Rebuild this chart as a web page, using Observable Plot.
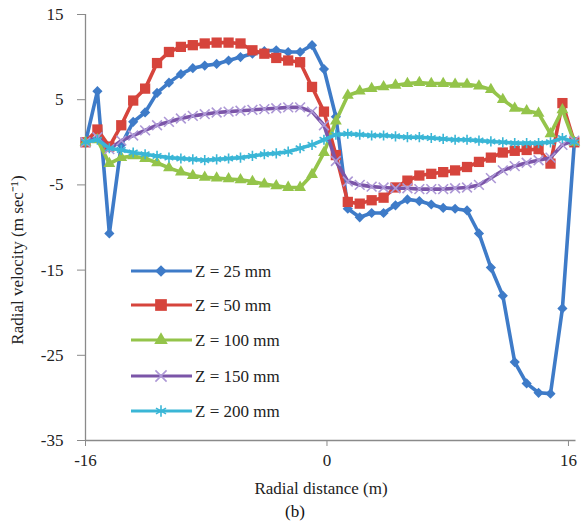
<!DOCTYPE html>
<html><head><meta charset="utf-8">
<script src="https://cdn.jsdelivr.net/npm/d3@7"></script>
<script src="https://cdn.jsdelivr.net/npm/@observablehq/plot@0.6"></script>
<style>
body{margin:0;background:#fff}
#wrap{position:relative;width:584px;height:529px;font-family:"Liberation Serif","Times New Roman",serif}
#legend{position:absolute;left:125px;top:250px}
#cap{position:absolute;left:0;width:590px;top:502px;text-align:center;font-size:17px;color:#111}
</style>
</head><body><div id="wrap"></div>
<script>
const radialDistance = [-16, -15.21, -14.42, -13.63, -12.84, -12.05, -11.26, -10.47, -9.68, -8.89, -8.1, -7.31, -6.52, -5.73, -4.94, -4.15, -3.36, -2.57, -1.78, -0.99, -0.2, 0.59, 1.38, 2.17, 2.96, 3.75, 4.54, 5.33, 6.12, 6.91, 7.7, 8.49, 9.28, 10.07, 10.86, 11.65, 12.44, 13.23, 14.02, 14.81, 15.6, 16.39];
const z25 = [0, 6.0, -10.7, -0.3, 2.4, 3.5, 5.8, 7.0, 8.0, 8.7, 9.0, 9.2, 9.6, 10.0, 10.4, 10.7, 10.8, 10.6, 10.6, 11.4, 8.6, 3.0, -7.8, -8.8, -8.3, -8.3, -7.4, -6.7, -6.9, -7.3, -7.7, -7.8, -8.0, -10.7, -14.7, -18.0, -25.8, -28.3, -29.4, -29.5, -19.5, 0];
const z50 = [0, 1.5, -0.5, 2.0, 4.9, 6.3, 9.3, 10.6, 11.2, 11.4, 11.6, 11.7, 11.7, 11.6, 10.8, 10.4, 9.9, 9.6, 9.4, 6.5, 3.6, -1.5, -7.0, -7.2, -6.8, -6.5, -5.3, -4.5, -3.9, -3.7, -3.5, -3.3, -2.9, -2.3, -1.8, -1.2, -1.0, -0.9, -0.8, -2.5, 4.6, 0];
const z100 = [0, 0.3, -2.5, -1.8, -1.6, -1.9, -2.4, -3.0, -3.5, -3.9, -4.1, -4.2, -4.3, -4.4, -4.6, -4.9, -5.1, -5.3, -5.3, -3.8, -1.2, 2.5, 5.5, 6.0, 6.3, 6.5, 6.7, 6.9, 7.0, 6.9, 6.9, 6.8, 6.8, 6.6, 6.2, 5.0, 4.0, 3.7, 3.4, 1.0, 3.8, 0];
const z150 = [0, 0.6, -0.8, 0.2, 0.8, 1.4, 2.0, 2.4, 2.8, 3.1, 3.3, 3.5, 3.6, 3.7, 3.8, 3.9, 4.0, 4.1, 4.1, 3.6, 2.0, -2.2, -4.6, -5.0, -5.2, -5.3, -5.4, -5.4, -5.5, -5.5, -5.5, -5.4, -5.3, -5.0, -4.2, -3.3, -2.8, -2.4, -2.1, -1.8, -0.3, 0.2];
const z200 = [0, 0.3, -0.7, -0.9, -1.2, -1.4, -1.6, -1.8, -1.9, -2.0, -2.1, -2.0, -1.9, -1.8, -1.6, -1.4, -1.3, -1.1, -0.7, -0.3, 0.3, 0.9, 1.0, 0.9, 0.8, 0.8, 0.7, 0.6, 0.6, 0.5, 0.4, 0.3, 0.3, 0.2, 0.1, 0.0, -0.1, -0.1, -0.1, 0.0, 0.5, 0];
const seriesNames = ["Z = 25 mm", "Z = 50 mm", "Z = 100 mm", "Z = 150 mm", "Z = 200 mm"];
const seriesValues = [z25, z50, z100, z150, z200];
const xTicks = [-16, 0, 16];
const yTicks = [15, 5, -5, -15, -25, -35];
const xLabel = "Radial distance (m)";
const yLabel = "Radial velocity (m sec\u207B\u00B9)";

const styles = [
  {color: "#3e7bc8", symbol: "diamond2", r: 4.6, filled: true},
  {color: "#d6443c", symbol: "square", r: 5.8, filled: true},
  {color: "#94c44a", symbol: "triangle", r: 4.4, filled: true},
  {color: "#7b55a8", symbol: "times", r: 4.5, filled: false, mark: "#ad98d6"},
  {color: "#3ab6d6", symbol: "asterisk", r: 4.8, filled: false, mark: "#3ab6d6"}
];
const FONT = '"Liberation Serif","Times New Roman",serif';
const fmt = d => String(d);

const marks = [
  Plot.ruleX([-16], {stroke: "#8a8a8a", strokeWidth: 1.3}),
  Plot.ruleY([-35], {stroke: "#8a8a8a", strokeWidth: 1.3}),
  Plot.axisY({ticks: yTicks, tickFormat: fmt, tickSize: 8, tickPadding: 14, stroke: "#8a8a8a", fill: "#222", fontSize: 17, label: null}),
  Plot.axisX({ticks: xTicks, tickFormat: fmt, tickSize: 6, tickPadding: 7, stroke: "#8a8a8a", fill: "#222", fontSize: 17, label: null})
];
seriesValues.forEach((vals, k) => {
  const rows = radialDistance.map((x, i) => ({x, y: vals[i]}));
  const s = styles[k];
  marks.push(Plot.line(rows, {x: "x", y: "y", stroke: s.color, strokeWidth: 3.6, curve: "linear"}));
  marks.push(Plot.dot(rows, s.filled
    ? {x: "x", y: "y", symbol: () => s.symbol, r: s.r, fill: s.color, stroke: "none"}
    : {x: "x", y: "y", symbol: () => s.symbol, r: s.r, stroke: s.mark, strokeWidth: 1.6, fill: "none"}));
});

const chart = Plot.plot({
  width: 584, height: 529,
  marginLeft: 85, marginRight: 8.5, marginTop: 14, marginBottom: 89,
  style: {fontFamily: FONT, fontSize: "17px", background: "#fff"},
  x: {domain: [-16, 16.5]},
  y: {domain: [-35, 15]},
  symbol: {type: "identity"},
  marks
});
const wrap = document.getElementById("wrap");
wrap.appendChild(chart);

// axis titles
const svg = d3.select(chart);
svg.append("text").attr("x", 321).attr("y", 488).attr("dy", "0.35em").attr("text-anchor", "middle")
  .attr("font-size", 17).attr("font-family", FONT).attr("fill", "#222").text(xLabel);
svg.append("text").attr("transform", "translate(17,260) rotate(-90)").attr("dy", "0.35em").attr("text-anchor", "middle")
  .attr("font-size", 17).attr("font-family", FONT).attr("fill", "#222").text(yLabel);

// legend overlay
const leg = d3.select(wrap).append("svg").attr("id", "legend").attr("width", 190).attr("height", 180);
const symMap = {diamond2: d3.symbolDiamond2, square: d3.symbolSquare, triangle: d3.symbolTriangle, times: d3.symbolTimes, asterisk: d3.symbolAsterisk};
const rowY = [21, 55, 90, 126, 161];
seriesNames.forEach((name, k) => {
  const s = styles[k];
  const g = leg.append("g").attr("transform", `translate(0,${rowY[k]})`);
  g.append("line").attr("x1", 6).attr("x2", 67).attr("stroke", s.color).attr("stroke-width", 3);
  const p = g.append("path").attr("transform", "translate(36,0)")
    .attr("d", d3.symbol(symMap[s.symbol], Math.PI * s.r * s.r * 1.3)());
  if (s.filled) p.attr("fill", s.color); else p.attr("fill", "none").attr("stroke", s.mark).attr("stroke-width", 1.6);
  g.append("text").attr("x", 70).attr("dy", "0.35em").attr("font-size", 17).attr("fill", "#222")
    .attr("font-family", FONT).text(name);
});
const cap = document.createElement("div");
cap.id = "cap"; cap.textContent = "(b)";
wrap.appendChild(cap);
</script>
</body></html>
